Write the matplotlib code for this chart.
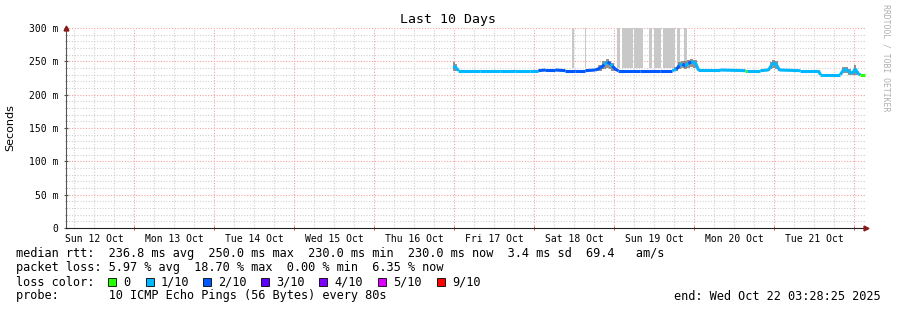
import matplotlib
matplotlib.use("Agg")
import matplotlib.pyplot as plt
from matplotlib.collections import LineCollection
from matplotlib.patches import Rectangle
import numpy as np

# hours since Sun 12 Oct 00:00, median rtt (ms), lost pings out of 10
hours = [119.7, 120.6, 121.2, 127.8, 133.8, 138.3, 142.8, 145.2, 147.3, 150.3,
         153.3, 156.3, 159.3, 162.3, 163.8, 165.0, 165.9, 166.8, 167.4, 168.3,
         169.2, 175.8, 181.8, 185.4, 186.6, 187.5, 188.4, 189.3, 190.2, 191.1,
         192.3, 193.2, 199.8, 207.3, 207.8, 211.8, 214.2, 215.1, 215.7, 216.6,
         217.5, 223.8, 229.2, 229.8, 235.8, 236.7, 237.6, 238.5, 239.4, 240.3,
         240.9, 241.8, 243.3]
median = [243, 240, 236, 236, 236, 236, 236, 236, 237, 237,
          236, 236, 236, 237, 240, 245, 249, 246, 243, 238,
          236, 236, 236, 236, 238, 244, 246, 243, 247, 249,
          248, 237, 237, 236, 236, 236, 237, 244, 248, 245,
          237, 236, 236, 230, 230, 237, 238, 234, 232, 239,
          232, 230, 230]
loss = [1, 1, 1, 1, 1, 1, 1, 2, 2, 2,
        2, 2, 2, 2, 2, 1, 2, 1, 2, 2,
        2, 2, 2, 1, 2, 1, 2, 1, 2, 1,
        1, 1, 1, 0, 1, 1, 1, 1, 1, 1,
        1, 1, 1, 1, 1, 1, 1, 1, 1, 1,
        1, 0, 0]
smoke_lo = [236, 236, 235, 235, 235, 235, 235, 235, 236, 236,
            235, 235, 235, 236, 236, 238, 240, 238, 236, 236,
            235, 235, 235, 235, 236, 238, 240, 238, 240, 242,
            240, 236, 236, 235, 235, 235, 236, 238, 240, 238,
            236, 235, 235, 229, 229, 232, 232, 230, 229, 230,
            229, 229, 229]
smoke_hi = [249, 246, 237, 237, 237, 237, 237, 237, 238, 238,
            237, 237, 237, 239, 244, 250, 253, 251, 248, 240,
            237, 237, 237, 237, 242, 249, 251, 250, 252, 253,
            252, 239, 238, 237, 237, 237, 239, 249, 252, 250,
            239, 237, 237, 231, 231, 241, 242, 238, 235, 245,
            236, 231, 231]

# periods where the slowest pings went above the graph top
spike_start = [155.4, 159.3, 168.9, 170.4, 174.0, 178.5, 180.0, 182.7, 186.9, 189.0]
spike_end = [156.0, 159.6, 169.8, 173.7, 176.7, 179.4, 182.1, 186.3, 187.8, 189.9]
spike_floor = 240

day_labels = ["Sun 12 Oct", "Mon 13 Oct", "Tue 14 Oct", "Wed 15 Oct", "Thu 16 Oct",
              "Fri 17 Oct", "Sat 18 Oct", "Sun 19 Oct", "Mon 20 Oct", "Tue 21 Oct"]
y_ticks = [0, 50, 100, 150, 200, 250, 300]
y_labels = ["0", "50 m", "100 m", "150 m", "200 m", "250 m", "300 m"]

loss_names = ["0", "1/10", "2/10", "3/10", "4/10", "5/10", "9/10"]
loss_colors = ["#26ff00", "#00b8ff", "#0059ff", "#5e00ff", "#7e00ff", "#dd00ff", "#ff0000"]

t0, t1 = 3.474, 243.474
W, H = 897, 310
mono = "DejaVu Sans Mono"

fig = plt.figure(figsize=(W / 100, H / 100), dpi=100)
ax = fig.add_axes([66 / W, 1 - 228 / H, 800 / W, 200 / H])
ax.set_xlim(t0, t1)
ax.set_ylim(0, 300)

# grid
for v in np.arange(10, 300.1, 10):
    major = v % 50 == 0
    ax.axhline(v, color="#f4a0a0" if major else "#d0d0d0", lw=0.8,
               ls=(0, (1, 1.5)), zorder=0)
for h in np.arange(6, t1, 6):
    if h < t0:
        continue
    major = h % 24 == 0
    ax.axvline(h, color="#f4a0a0" if major else "#d0d0d0", lw=0.8,
               ls=(0, (1, 1.5)), zorder=0)

# spikes
for s, e in zip(spike_start, spike_end):
    ax.add_patch(Rectangle((s, spike_floor), e - s, 300 - spike_floor,
                           color="#c8c8c8", lw=0, zorder=1))

# smoke
ax.fill_between(hours, smoke_lo, smoke_hi, step="mid", color="#707070",
                alpha=0.75, lw=0, zorder=2)

# median coloured by loss
pts = np.column_stack([hours, median])
segs = np.stack([pts[:-1], pts[1:]], axis=1)
cols = [loss_colors[l] for l in loss[:-1]]
ax.add_collection(LineCollection(segs, colors=cols, linewidths=2.2, zorder=3))

# axes
for s in ["top", "right"]:
    ax.spines[s].set_visible(False)
ax.spines["left"].set_color("#555555")
ax.spines["bottom"].set_color("#222222")
ax.set_xticks([12 + 24 * i for i in range(10)])
ax.set_xticklabels(day_labels, family=mono, fontsize=7)
ax.set_xticks([24 * i for i in range(1, 11)], minor=True)
ax.tick_params(axis="x", which="major", length=0, pad=4)
ax.tick_params(axis="x", which="minor", length=3, direction="inout", color="#cc4444")
ax.set_yticks(y_ticks)
ax.set_yticklabels(y_labels, family=mono, fontsize=7)
ax.set_yticks(np.arange(0, 301, 10), minor=True)
ax.tick_params(axis="y", which="major", length=3, direction="inout", color="#555555", pad=4)
ax.tick_params(axis="y", which="minor", length=2, direction="inout", color="#888888")
ax.set_ylabel("Seconds", fontsize=8, labelpad=10)
ax.plot(1, 0, ">", transform=ax.transAxes, color="#8b1a1a", ms=3.5, clip_on=False, zorder=5)
ax.plot(0, 1, "^", transform=ax.transAxes, color="#8b1a1a", ms=3.5, clip_on=False, zorder=5)

fig.text(448 / W, 1 - 19 / H, "Last 10 Days", family=mono, fontsize=9.5,
         ha="center", va="center")
fig.text(886 / W, 1 - 4 / H, "RRDTOOL / TOBI OETIKER", family=mono, fontsize=5.9,
         color="#b0b0b0", rotation=270, ha="center", va="top")

def row(y, x, s, **kw):
    fig.text(x / W, 1 - y / H, s, family=mono, fontsize=8.6, va="center", **kw)

row(254, 16, "median rtt:  236.8 ms avg  250.0 ms max  230.0 ms min  230.0 ms now  3.4 ms sd  69.4   am/s")
row(268, 16, "packet loss: 5.97 % avg  18.70 % max  0.00 % min  6.35 % now")
row(282, 16, "loss color:")
box_x = [108, 146, 203, 261, 319, 378, 437]
for bx, name, c in zip(box_x, loss_names, loss_colors):
    fig.patches.append(Rectangle((bx / W, 1 - 286 / H), 8 / W, 8 / H, facecolor=c,
                                 edgecolor="#000000", lw=0.6, transform=fig.transFigure))
    row(282, bx + 15, name)
row(296, 16, "probe:       10 ICMP Echo Pings (56 Bytes) every 80s")
row(296, 881, "end: Wed Oct 22 03:28:25 2025", ha="right")

fig.savefig("out.png", dpi=100)
